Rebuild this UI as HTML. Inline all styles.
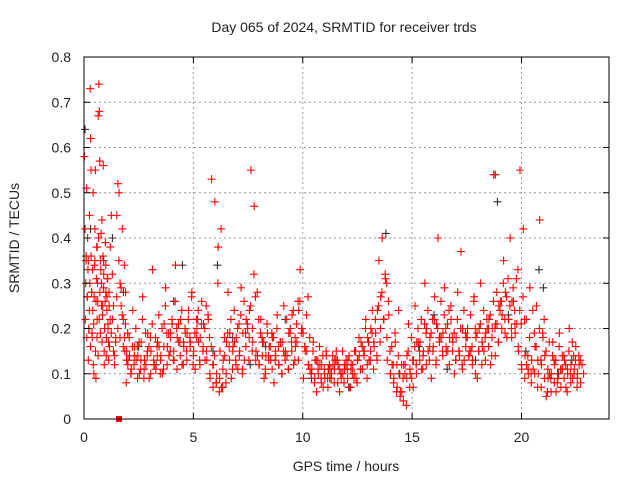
<!DOCTYPE html>
<html><head><meta charset="utf-8"><style>
body{margin:0;background:#fff;}
svg{display:block;font-family:"Liberation Sans",sans-serif;}
</style></head><body>
<svg id="chart" width="640" height="480" xmlns="http://www.w3.org/2000/svg">
<rect width="640" height="480" fill="#fff"/>
<text x="344" y="32" font-size="14" text-anchor="middle" fill="#222">Day 065 of 2024, SRMTID for receiver trds</text>
<text transform="translate(19,238) rotate(-90)" font-size="14" text-anchor="middle" fill="#222">SRMTID / TECUs</text>
<text x="346" y="471" font-size="14" text-anchor="middle" fill="#222">GPS time / hours</text>
<g id="grid"></g>
<g id="marks"></g>
<g id="axes"></g>
</svg>
<script>
const xTicks=[0,5,10,15,20];
const yTicks=[0,0.1,0.2,0.3,0.4,0.5,0.6,0.7,0.8];
const yTickLabels=["0","0.1","0.2","0.3","0.4","0.5","0.6","0.7","0.8"];
const earlyHours=[0.02,0.05,0.08,0.1,0.12,0.15,0.18,0.2,0.22,0.25,0.28,0.3,0.32,0.35,0.38,0.4,0.42,0.45,0.48,0.5,0.52,0.55,0.58,0.6,0.62,0.65,0.68,0.7,0.72,0.75,0.78,0.8,0.82,0.85,0.88,0.9,0.92,0.95,0.98,1.0,1.02,1.05,1.08,1.1,1.12,1.15,1.2,1.25,1.3,1.35,1.4,1.45,1.5,1.55,1.6,1.65,1.7,1.75,1.8,1.85,1.9,1.95];
const earlyValues=[0.58,0.42,0.3,0.36,0.51,0.27,0.33,0.35,0.2,0.45,0.73,0.62,0.55,0.28,0.18,0.24,0.5,0.1,0.34,0.42,0.55,0.26,0.38,0.22,0.3,0.67,0.74,0.68,0.57,0.35,0.41,0.3,0.44,0.25,0.56,0.32,0.15,0.2,0.39,0.28,0.14,0.27,0.31,0.2,0.17,0.25,0.38,0.45,0.22,0.15,0.12,0.18,0.45,0.52,0.5,0.3,0.25,0.42,0.22,0.18,0.28,0.15];
const earlyValues2=[.22,.35,.18,.27,.40,.13,.20,.24,.30,.16,.36,.28,.19,.33,.12,.21,.27,.35,.15,.09,.31,.18,.26,.14,.40,.22,.28,.19,.33,.25,.17,.23,.36,.29,.12,.20,.26,.34,.18,.24,.31,.21,.13,.28,.16,.22,.19,.32,.25,.14,.17,.27,.20,.35,.18,.29,.23,.16,.34,.21,.13,.19];
const redHours=[2.0,2.15,2.3,2.45,2.6,2.75,2.9,3.05,3.2,3.35,3.5,3.65,3.8,3.95,4.1,4.25,4.4,4.55,4.7,4.85,5.0,5.15,5.3,5.45,5.6,5.75,5.9,6.05,6.2,6.35,6.5,6.65,6.8,6.95,7.1,7.25,7.4,7.55,7.7,7.85,8.0,8.15,8.3,8.45,8.6,8.75,8.9,9.05,9.2,9.35,9.5,9.65,9.8,9.95,10.1,10.25,10.4,10.55,10.7,10.85,11.0,11.15,11.3,11.45,11.6,11.75,11.9,12.05,12.2,12.35,12.5,12.65,12.8,12.95,13.1,13.25,13.4,13.55,13.7,13.85,14.0,14.15,14.3,14.45,14.6,14.75,14.9,15.05,15.2,15.35,15.5,15.65,15.8,15.95,16.1,16.25,16.4,16.55,16.7,16.85,17.0,17.15,17.3,17.45,17.6,17.75,17.9,18.05,18.2,18.35,18.5,18.65,18.8,18.95,19.1,19.25,19.4,19.55,19.7,19.85,20.0,20.15,20.3,20.45,20.6,20.75,20.9,21.05,21.2,21.35,21.5,21.65,21.8,21.95,22.1,22.25,22.4,22.55,22.7];
const redA=[.12,.10,.14,.09,.13,.11,.15,.10,.12,.14,.13,.16,.12,.18,.15,.11,.14,.17,.13,.16,.14,.18,.12,.16,.15,.10,.07,.08,.09,.11,.10,.13,.15,.12,.14,.11,.16,.18,.20,.13,.12,.14,.10,.13,.11,.15,.12,.10,.13,.11,.15,.18,.13,.20,.16,.12,.10,.09,.11,.08,.10,.07,.09,.11,.08,.10,.12,.09,.11,.10,.13,.11,.14,.12,.15,.17,.13,.20,.22,.18,.10,.08,.12,.05,.04,.09,.11,.07,.10,.13,.14,.12,.16,.15,.13,.17,.14,.16,.12,.15,.13,.15,.11,.16,.14,.12,.10,.15,.17,.13,.16,.18,.14,.17,.20,.19,.22,.18,.21,.16,.12,.09,.11,.08,.10,.13,.07,.09,.11,.06,.08,.10,.07,.09,.11,.08,.10,.09,.08];
const redB=[.18,.16,.20,.17,.22,.19,.16,.21,.18,.23,.20,.25,.19,.22,.26,.21,.24,.20,.22,.27,.19,.24,.21,.20,.23,.16,.14,.30,.42,.18,.19,.22,.24,.20,.23,.26,.21,.25,.32,.28,.19,.17,.21,.16,.18,.20,.17,.15,.22,.19,.24,.21,.26,.19,.23,.18,.15,.13,.16,.14,.15,.12,.14,.13,.11,.15,.12,.14,.10,.15,.18,.16,.20,.17,.19,.22,.25,.28,.32,.26,.16,.19,.14,.12,.10,.15,.18,.16,.20,.22,.21,.24,.19,.22,.20,.26,.23,.21,.25,.19,.22,.20,.24,.18,.23,.26,.19,.21,.24,.22,.23,.26,.28,.24,.30,.27,.25,.29,.31,.24,.27,.22,.18,.24,.16,.20,.19,.15,.17,.14,.13,.16,.14,.12,.15,.17,.13,.14,.12];
const redC=[.08,.14,.24,.13,.10,.27,.12,.09,.33,.11,.16,.10,.29,.14,.21,.34,.17,.12,.19,.24,.28,.11,.17,.26,.13,.22,.53,.48,.38,.07,.14,.28,.09,.17,.11,.29,.13,.20,.55,.47,.14,.22,.09,.19,.13,.08,.23,.17,.25,.14,.20,.12,.17,.33,.09,.15,.11,.17,.06,.12,.07,.14,.09,.12,.15,.06,.10,.13,.07,.12,.09,.14,.11,.22,.13,.24,.19,.35,.40,.31,.23,.12,.17,.24,.06,.12,.21,.09,.25,.17,.11,.30,.15,.09,.27,.40,.18,.29,.15,.22,.10,.28,.37,.13,.20,.15,.27,.09,.30,.15,.20,.12,.54,.21,.26,.35,.18,.40,.26,.21,.55,.42,.12,.29,.11,.25,.44,.18,.05,.10,.17,.06,.19,.11,.07,.20,.09,.16,.12];
const redD=[.15,.13,.11,.16,.14,.17,.13,.19,.15,.12,.17,.14,.21,.16,.19,.13,.18,.22,.16,.19,.17,.15,.20,.18,.21,.13,.09,.12,.10,.15,.13,.17,.19,.16,.18,.15,.19,.22,.24,.17,.15,.12,.17,.14,.16,.18,.14,.12,.17,.15,.19,.23,.16,.24,.20,.15,.12,.11,.13,.10,.12,.09,.11,.10,.13,.12,.09,.11,.13,.12,.15,.13,.17,.15,.18,.20,.16,.24,.27,.22,.13,.10,.09,.07,.06,.12,.14,.10,.13,.17,.17,.15,.20,.18,.16,.21,.18,.19,.15,.18,.17,.18,.14,.20,.18,.15,.13,.18,.20,.16,.19,.22,.20,.21,.25,.23,.28,.22,.26,.19,.15,.11,.14,.10,.13,.16,.10,.12,.14,.09,.10,.12,.09,.11,.13,.10,.12,.11,.10];
const redE=[.10,.12,.16,.11,.09,.14,.18,.13,.16,.10,.11,.19,.15,.13,.20,.17,.12,.15,.18,.12,.22,.13,.15,.25,.18,.12,.08,.06,.07,.08,.16,.11,.13,.21,.10,.19,.13,.15,.27,.22,.18,.11,.14,.19,.13,.16,.10,.14,.11,.17,.13,.26,.19,.16,.27,.10,.08,.13,.09,.11,.09,.11,.08,.13,.10,.08,.11,.07,.09,.08,.11,.15,.09,.13,.11,.14,.17,.22,.30,.15,.12,.06,.10,.09,.03,.07,.13,.12,.15,.11,.19,.13,.22,.12,.18,.15,.20,.24,.18,.13,.15,.12,.19,.14,.16,.20,.15,.12,.18,.20,.14,.20,.17,.26,.22,.31,.20,.24,.33,.21,.22,.14,.10,.19,.07,.13,.22,.06,.09,.13,.08,.11,.14,.06,.10,.14,.07,.13,.10];
const blackHours=[0.05,0.3,0.6,0.9,1.3,1.8,2.5,3.3,4.1,4.5,5.2,5.9,6.1,6.8,7.6,8.3,9.2,10.4,11.2,12.1,13.0,13.8,14.4,15.3,16.0,16.6,17.3,17.9,18.8,18.9,19.4,20.2,20.8,21.0,21.7,22.3];
const blackValues=[.64,.42,.38,.35,.40,.28,.16,.12,.26,.34,.22,.15,.34,.18,.12,.16,.22,.09,.11,.07,.17,.41,.10,.16,.23,.11,.20,.13,.54,.48,.23,.15,.33,.29,.10,.13];
const squareHours=[1.6];
const squareValues=[0];

const L=84,R=609,T=57,B=419,XMAX=24,YMAX=0.8;
const xs=h=>L+(R-L)*h/XMAX;
const ys=v=>B-(B-T)*v/YMAX;
const NS="http://www.w3.org/2000/svg";
function mk(tag,attrs,parent){const e=document.createElementNS(NS,tag);for(const k in attrs)e.setAttribute(k,attrs[k]);parent.appendChild(e);return e;}
const grid=document.getElementById('grid'),marks=document.getElementById('marks'),axes=document.getElementById('axes');
xTicks.forEach(t=>{
  if(t>0){const g=mk('line',{x1:xs(t),x2:xs(t),y1:T,y2:B,stroke:'#999','stroke-dasharray':'2,3'},grid);
  
  }
  const tk=mk('path',{d:`M${xs(t)},${B}v-6M${xs(t)},${T}v6`,stroke:'#000'},axes);
  
  
  const lb=mk('text',{x:xs(t),y:B+23,'font-size':14,'text-anchor':'middle',fill:'#222'},axes);
  lb.textContent=String(t);
  
  
});
yTicks.forEach((t,i)=>{
  if(t>0&&t<YMAX){const g=mk('line',{x1:L,x2:R,y1:ys(t),y2:ys(t),stroke:'#999','stroke-dasharray':'2,3'},grid);
  
  }
  const tk=mk('path',{d:`M${L},${ys(t)}h6M${R},${ys(t)}h-6`,stroke:'#000'},axes);
  
  
  const lb=mk('text',{x:L-13,y:ys(t)+5,'font-size':14,'text-anchor':'end',fill:'#222'},axes);
  lb.textContent=yTickLabels[i];
  
  
});
const fr=mk('rect',{x:L,y:T,width:R-L,height:B-T,fill:'none',stroke:'#000'},axes);


function plus(h,v,col,dx,name){
  if(v===undefined||h===undefined)return;
  const x=xs(h)+dx,y=ys(v);
  const p=mk('path',{d:`M${x-4},${y}h8M${x},${y-4}v8`,stroke:col,'stroke-width':1.1},marks);
  
  
}
blackHours.forEach((h,i)=>plus(h,blackValues[i],'#333',0,'black-point'));
earlyHours.forEach((h,i)=>{
  plus(h,earlyValues[i],'#f00',0,'red-point');
  plus(h,earlyValues2[i],'#f00',1,'red-point');
});
redHours.forEach((h,i)=>{
  plus(h,redA[i],'#f00',0,'red-point');
  plus(h,redB[i],'#f00',1.5,'red-point');
  plus(h,redC[i],'#f00',-1.5,'red-point');
  plus(h,redD[i],'#f00',-3,'red-point');
  plus(h,redE[i],'#f00',3,'red-point');
});
squareHours.forEach((h,i)=>{
  const s=mk('rect',{x:xs(h)-3,y:ys(squareValues[i])-3,width:6,height:6,fill:'#f00'},marks);
  
  
});
</script>
</body></html>
